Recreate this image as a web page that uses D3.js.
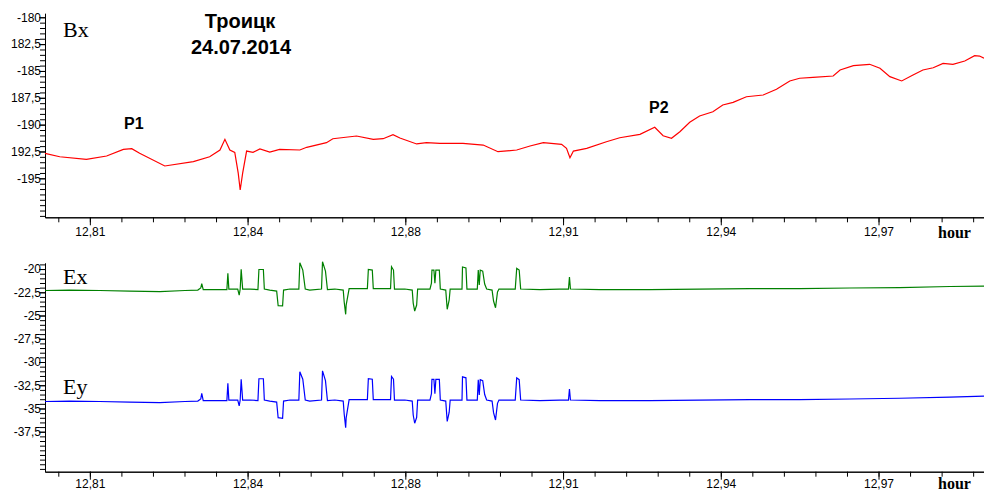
<!DOCTYPE html>
<html>
<head>
<meta charset="utf-8">
<script src="https://cdn.jsdelivr.net/npm/d3@7"></script>
<style>
	body { margin: 0; background: #fff; }
	svg { display: block; }
	.tick text { font-family: "Liberation Sans", Arial, sans-serif; font-size: 12px; fill: #000; }
	.axis path, .axis line { stroke: #000; }
</style>
</head>
<body>
<svg width="984" height="492"></svg>
<script>

// time axis (hours) and its labels
const xTickHours = [12.8125, 12.8445, 12.8765, 12.9085, 12.9405, 12.9725];
const xTickLabels = ['12,81', '12,84', '12,88', '12,91', '12,94', '12,97'];

// Bx panel
const bxTicks = [-180, -182.5, -185, -187.5, -190, -192.5, -195];
const bxTickLabels = ['-180', '182,5', '-185', '187,5', '-190', '192,5', '-195'];

const bxHours = [12.8034, 12.8064, 12.8118, 12.8159, 12.8193, 12.8210, 12.8226, 12.8277, 12.8335, 12.8368,
	12.8389, 12.8399, 12.8409, 12.8419, 12.8426, 12.8430, 12.8435, 12.8443, 12.8456, 12.8470,
	12.8490, 12.8510, 12.8551, 12.8565, 12.8605, 12.8618, 12.8666, 12.8700, 12.8720, 12.8740,
	12.8754, 12.8788, 12.8808, 12.8835, 12.8882, 12.8923, 12.8953, 12.8991, 12.9018, 12.9045,
	12.9082, 12.9092, 12.9099, 12.9106, 12.9133, 12.9173, 12.9200, 12.9241, 12.9271, 12.9288,
	12.9305, 12.9322, 12.9342, 12.9362, 12.9389, 12.9409, 12.9430, 12.9457, 12.9491, 12.9518,
	12.9545, 12.9565, 12.9592, 12.9633, 12.9647, 12.9674, 12.9707, 12.9728, 12.9748, 12.9772,
	12.9795, 12.9815, 12.9836, 12.9856, 12.9876, 12.9900, 12.9920, 12.9930, 12.9939];

const bxValues = [-192.67, -192.99, -193.23, -192.92, -192.30, -192.24, -192.67, -193.85, -193.45, -192.99,
	-192.36, -191.37, -192.36, -192.58, -194.51, -196.09, -194.51, -192.46, -192.58, -192.27,
	-192.55, -192.30, -192.36, -192.11, -191.68, -191.31, -191.06, -191.37, -191.31, -190.94,
	-191.25, -191.80, -191.68, -191.74, -191.74, -191.90, -192.52, -192.36, -191.99, -191.68,
	-191.83, -192.21, -193.08, -192.46, -192.21, -191.59, -191.22, -190.90, -190.25, -191.03,
	-191.27, -190.66, -189.78, -189.20, -188.80, -188.17, -187.92, -187.40, -187.24, -186.71,
	-185.93, -185.68, -185.59, -185.47, -184.91, -184.51, -184.38, -184.75, -185.53, -185.93,
	-185.38, -184.91, -184.70, -184.29, -184.38, -184.07, -183.58, -183.61, -183.82];

// Ex / Ey panel
const eTicks = [-20, -22.5, -25, -27.5, -30, -32.5, -35, -37.5];
const eTickLabels = ['-20', '-22,5', '-25', '-27,5', '-30', '-32,5', '-35', '-37,5'];

const eHours = [12.8034, 12.8084, 12.8145, 12.8206, 12.8267, 12.8318, 12.8344, 12.8350, 12.8352, 12.8355,
	12.8379, 12.8403, 12.8405, 12.8407, 12.8425, 12.8428, 12.8430, 12.8432, 12.8435, 12.8450,
	12.8466, 12.8468, 12.8477, 12.8479, 12.8490, 12.8504, 12.8507, 12.8516, 12.8518, 12.8531,
	12.8549, 12.8551, 12.8557, 12.8562, 12.8571, 12.8595, 12.8597, 12.8603, 12.8607, 12.8622,
	12.8639, 12.8641, 12.8644, 12.8645, 12.8651, 12.8663, 12.8688, 12.8690, 12.8698, 12.8700,
	12.8723, 12.8735, 12.8737, 12.8741, 12.8743, 12.8764, 12.8779, 12.8781, 12.8784, 12.8788,
	12.8790, 12.8815, 12.8818, 12.8819, 12.8823, 12.8825, 12.8827, 12.8834, 12.8836, 12.8847,
	12.8850, 12.8854, 12.8856, 12.8880, 12.8881, 12.8888, 12.8890, 12.8911, 12.8913, 12.8915,
	12.8917, 12.8922, 12.8926, 12.8930, 12.8941, 12.8944, 12.8948, 12.8952, 12.8955, 12.8988,
	12.8991, 12.8996, 12.8999, 12.9038, 12.9078, 12.9096, 12.9098, 12.9100, 12.9160, 12.9261,
	12.9362, 12.9464, 12.9565, 12.9667, 12.9768, 12.9870, 12.9939];

const exValues = [-22.31, -22.26, -22.31, -22.37, -22.42, -22.31, -22.26, -22.04, -21.56, -22.21,
	-22.21, -22.21, -20.46, -22.15, -22.15, -22.80, -22.15, -20.03, -22.15, -22.15,
	-22.21, -20.05, -20.05, -22.15, -22.26, -22.37, -23.93, -23.95, -22.26, -22.15,
	-22.15, -19.32, -20.11, -22.15, -22.26, -22.15, -19.21, -20.22, -22.21, -22.15,
	-22.26, -23.55, -24.87, -23.87, -22.10, -22.10, -22.10, -20.05, -20.11, -22.10,
	-22.10, -22.10, -19.75, -20.11, -22.15, -22.15, -22.26, -23.66, -24.52, -23.87,
	-22.15, -22.15, -21.51, -20.11, -20.11, -21.51, -20.11, -20.11, -22.15, -22.26,
	-24.33, -23.33, -22.15, -22.15, -19.78, -19.89, -22.15, -22.15, -20.11, -21.72,
	-20.11, -20.22, -21.61, -22.15, -22.26, -23.44, -24.16, -22.47, -22.15, -22.15,
	-19.92, -20.11, -22.15, -22.21, -22.15, -22.15, -20.86, -22.15, -22.21, -22.21,
	-22.15, -22.10, -22.10, -22.04, -21.99, -21.88, -21.83];

const eyValues = [-34.25, -34.20, -34.25, -34.31, -34.36, -34.25, -34.20, -33.98, -33.37, -34.15,
	-34.15, -34.15, -32.30, -34.09, -34.09, -34.71, -34.09, -31.86, -34.09, -34.09,
	-34.15, -31.80, -31.80, -34.09, -34.20, -34.31, -35.99, -36.05, -34.20, -34.09,
	-34.09, -31.05, -31.85, -34.09, -34.20, -34.09, -30.95, -32.00, -34.15, -34.09,
	-34.20, -35.60, -37.07, -36.00, -34.04, -34.04, -34.04, -31.80, -31.85, -34.04,
	-34.04, -34.04, -31.55, -31.85, -34.09, -34.09, -34.20, -35.70, -36.59, -35.95,
	-34.09, -34.09, -33.40, -31.86, -31.86, -33.40, -31.86, -31.86, -34.09, -34.20,
	-36.40, -35.40, -34.09, -34.09, -31.60, -31.70, -34.09, -34.09, -31.90, -33.55,
	-31.90, -32.00, -33.50, -34.09, -34.20, -35.45, -36.24, -34.45, -34.09, -34.09,
	-31.70, -31.90, -34.09, -34.15, -34.09, -34.09, -32.90, -34.09, -34.15, -34.15,
	-34.09, -34.04, -34.04, -33.98, -33.90, -33.78, -33.66];

const LEFT = 45;
const RIGHT = 984;

function whenDocumentLoaded(action) {
	if (document.readyState === 'loading') {
		document.addEventListener('DOMContentLoaded', action);
	} else {
		action();
	}
}

// draws one panel: y axis with major/minor ticks, time axis, and the series
function drawPanel(svg, panel) {
	const x = d3.scaleLinear().domain([12.8034, 12.9939]).range([LEFT, RIGHT]);
	const y = d3.scaleLinear().domain(panel.yDomain).range(panel.yRange);
	const g = svg.append('g');

	// minor ticks every 0.5 on y
	const yMinor = d3.range(Math.ceil(panel.yDomain[0] * 2) / 2, panel.yDomain[1], 0.5);
	g.append('g')
	.attr('class', 'axis')
	.attr('transform', 'translate(' + LEFT + ',0)')
	.call(d3.axisLeft(y).tickValues(yMinor).tickSize(5).tickSizeOuter(0).tickFormat(''));

	g.append('g')
	.attr('class', 'axis')
	.attr('transform', 'translate(' + LEFT + ',0)')
	.call(d3.axisLeft(y).tickValues(panel.ticks).tickSize(6).tickSizeOuter(0)
		.tickFormat((d, i) => panel.tickLabels[i]))
	.call(a => a.selectAll('.tick text').attr('x', -4));

	// time axis
	const axisY = panel.yRange[0];
	const step = (xTickHours[1] - xTickHours[0]) / 5;
	const xMinor = d3.range(xTickHours[0] - step, x.domain()[1], step);
	g.append('g')
	.attr('class', 'axis')
	.attr('transform', 'translate(0,' + axisY + ')')
	.call(d3.axisBottom(x).tickValues(xMinor).tickSize(5).tickSizeOuter(0).tickFormat(''));

	g.append('g')
	.attr('class', 'axis')
	.attr('transform', 'translate(0,' + axisY + ')')
	.call(d3.axisBottom(x).tickValues(xTickHours).tickSize(8).tickSizeOuter(0)
		.tickFormat((d, i) => xTickLabels[i]))
	.call(a => a.selectAll('.tick text').attr('y', panel.xLabelY).attr('dy', 0));

	g.append('text')
	.attr('x', 938)
	.attr('y', axisY + panel.hourY)
	.style('font-family', '"Liberation Serif", "Times New Roman", serif')
	.style('font-weight', 'bold')
	.style('font-size', '16px')
	.text('hour');

	const line = d3.line()
	.x(d => x(d[0]))
	.y(d => y(d[1]));

	panel.series.forEach(s => {
		g.append('path')
		.datum(d3.zip(s.hours, s.values))
		.attr('fill', 'none')
		.attr('stroke', s.color)
		.attr('stroke-width', 1.2)
		.attr('d', line);

		g.append('text')
		.attr('x', 63)
		.attr('y', s.labelY)
		.style('font-family', '"Liberation Serif", "Times New Roman", serif')
		.style('font-size', '22px')
		.text(s.name);
	});
}

whenDocumentLoaded(() => {

	const svg = d3.select('svg');

	drawPanel(svg, {
		yDomain: [-198.63, -179.63],
		yRange: [217.3, 13.3],
		ticks: bxTicks,
		tickLabels: bxTickLabels,
		xLabelY: 19,
		hourY: 21,
		series: [
			{ name: 'Bx', hours: bxHours, values: bxValues, color: '#ff0000', labelY: 37 }
		]
	});

	// bottom labels sit right at the lower edge
	drawPanel(svg, {
		yDomain: [-41.80, -19.35],
		yRange: [471.7, 263],
		ticks: eTicks,
		tickLabels: eTickLabels,
		xLabelY: 16.5,
		hourY: 17.5,
		series: [
			{ name: 'Ex', hours: eHours, values: exValues, color: '#008000', labelY: 284 },
			{ name: 'Ey', hours: eHours, values: eyValues, color: '#0000ff', labelY: 394 }
		]
	});

	// title and peak labels
	const sans = '"Liberation Sans", Arial, sans-serif';
	svg.append('text')
	.attr('x', 240).attr('y', 28)
	.attr('text-anchor', 'middle')
	.style('font-family', sans).style('font-weight', 'bold').style('font-size', '20px')
	.text('Троицк');

	svg.append('text')
	.attr('x', 241).attr('y', 54)
	.attr('text-anchor', 'middle')
	.style('font-family', sans).style('font-weight', 'bold').style('font-size', '20px')
	.text('24.07.2014');

	svg.append('text')
	.attr('x', 124).attr('y', 129)
	.style('font-family', sans).style('font-weight', 'bold').style('font-size', '16px')
	.text('P1');

	svg.append('text')
	.attr('x', 649).attr('y', 113)
	.style('font-family', sans).style('font-weight', 'bold').style('font-size', '16px')
	.text('P2');
});
</script>
</body>
</html>
